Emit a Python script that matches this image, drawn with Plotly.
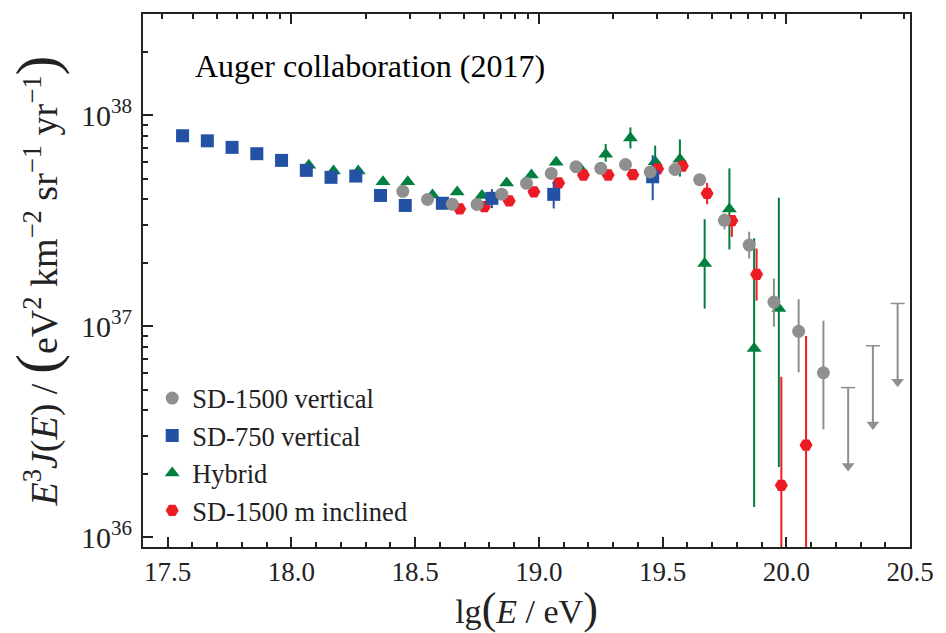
import numpy as np
import plotly.graph_objects as go

# ---------------- data ----------------
# SD-750 vertical (blue squares)
sd750_lg = [17.56, 17.66, 17.76, 17.86, 17.96, 18.06, 18.16, 18.26, 18.36, 18.46, 18.61, 18.81, 19.06, 19.46]
sd750_flux = [7.98e37, 7.55e37, 7.03e37, 6.56e37, 6.10e37, 5.47e37, 5.07e37, 5.14e37, 4.16e37, 3.73e37,
              3.82e37, 4.03e37, 4.21e37, 5.10e37]
sd750_hi = [None, None, None, None, None, None, None, None, None, None, None, 4.46e37, 4.83e37, 6.46e37]
sd750_lo = [None, None, None, None, None, None, None, None, None, None, None, 3.62e37, 3.61e37, 3.95e37]

# SD-1500 vertical (grey circles)
sd1500_lg = [18.45, 18.55, 18.65, 18.75, 18.85, 18.95, 19.05, 19.15, 19.25, 19.35, 19.45, 19.55, 19.65,
             19.75, 19.85, 19.95, 20.05, 20.15]
sd1500_flux = [4.35e37, 3.98e37, 3.78e37, 3.77e37, 4.22e37, 4.75e37, 5.29e37, 5.69e37, 5.59e37, 5.83e37,
               5.38e37, 5.52e37, 4.94e37, 3.17e37, 2.42e37, 1.30e37, 9.44e36, 6.01e36]
sd1500_hi = [None] * 13 + [3.42e37, 2.80e37, 1.68e37, 1.34e37, 1.06e37]
sd1500_lo = [None] * 13 + [2.87e37, 2.09e37, 9.93e36, 6.04e36, 3.24e36]
# SD-1500 vertical upper limits
ul_lg = [20.25, 20.35, 20.45]
ul_top = [5.11e36, 8.07e36, 1.28e37]
ul_arrow = [2.17e36, 3.42e36, 5.45e36]

# Hybrid (green triangles)
hyb_lg = [18.07, 18.17, 18.27, 18.37, 18.47, 18.57, 18.67, 18.77, 18.87, 18.97, 19.07, 19.17, 19.27,
          19.37, 19.47, 19.57, 19.67, 19.77, 19.87, 19.97]
hyb_flux = [5.78e37, 5.43e37, 5.43e37, 4.83e37, 4.83e37, 4.18e37, 4.32e37, 4.16e37, 4.76e37, 5.20e37,
            5.98e37, 5.54e37, 6.53e37, 7.78e37, 6.01e37, 6.18e37, 1.98e37, 3.59e37, 7.83e36, 1.21e37]
hyb_hi = [None] * 12 + [7.29e37, 8.74e37, 7.16e37, 7.67e37, 3.21e37, 5.59e37, 2.61e37, 4.06e37]
hyb_lo = [None] * 12 + [6.01e37, 6.95e37, 5.11e37, 5.11e37, 1.21e37, 2.31e37, 1.39e36, 2.15e36]

# SD-1500 m inclined (red hexagons)
inc_lg = [18.68, 18.78, 18.88, 18.98, 19.08, 19.18, 19.28, 19.38, 19.48, 19.58, 19.68, 19.78, 19.88,
          19.98, 20.08]
inc_flux = [3.59e37, 3.68e37, 3.92e37, 4.33e37, 4.77e37, 5.20e37, 5.20e37, 5.22e37, 5.56e37, 5.73e37,
            4.25e37, 3.16e37, 1.76e37, 1.76e36, 2.73e36]
inc_hi = [None] * 10 + [4.77e37, 3.36e37, 2.33e37, 5.75e36, 8.97e36]
inc_lo = [None] * 10 + [3.78e37, 2.65e37, 1.32e37, 1.0e35, 1.0e35]

x_ticks = [17.5, 18.0, 18.5, 19.0, 19.5, 20.0, 20.5]
x_ticktext = ["17.5", "18.0", "18.5", "19.0", "19.5", "20.0", "20.5"]
y_ticks = [1e36, 1e37, 1e38]
y_ticktext = ["10<sup>36</sup>", "10<sup>37</sup>", "10<sup>38</sup>"]

# ---------------- styling ----------------
C_GREY = "#8f8f8f"
C_BLUE = "#2351a3"
C_GREEN = "#007f3e"
C_RED = "#ed1c24"
FONT = "Liberation Serif"
AX = "#222222"


def errs(y, hi, lo):
    plus = [(h - v) if h is not None else 0 for v, h in zip(y, hi)]
    minus = [(v - l) if l is not None else 0 for v, l in zip(y, lo)]
    return plus, minus


fig = go.Figure()


def add_series(name, x, y, hi, lo, color, symbol, size, rank):
    plus, minus = errs(y, hi, lo)
    fig.add_trace(go.Scatter(
        x=x, y=y, mode="markers", name=name, legendrank=rank,
        marker=dict(symbol=symbol, size=size, color=color, line=dict(width=0)),
        error_y=dict(type="data", symmetric=False, array=plus, arrayminus=minus,
                     color=color, thickness=2, width=0),
        legendgroup=name,
    ))


# draw order: hybrid, inclined, SD-750, SD-1500
add_series("Hybrid", hyb_lg, hyb_flux, hyb_hi, hyb_lo, C_GREEN, "triangle-up", 13, 3)
add_series("SD-1500 m inclined", inc_lg, inc_flux, inc_hi, inc_lo, C_RED, "hexagon2", 13, 4)
add_series("SD-750 vertical", sd750_lg, sd750_flux, sd750_hi, sd750_lo, C_BLUE, "square", 13, 2)
add_series("SD-1500 vertical", sd1500_lg, sd1500_flux, sd1500_hi, sd1500_lo, C_GREY, "circle", 13, 1)

# upper limits: stems, caps, arrow heads
stem_x, stem_y = [], []
for xv, t, a in zip(ul_lg, ul_top, ul_arrow):
    stem_x += [xv, xv, None]
    stem_y += [t, a, None]
fig.add_trace(go.Scatter(x=stem_x, y=stem_y, mode="lines", line=dict(color=C_GREY, width=2),
                         showlegend=False, hoverinfo="skip", legendgroup="SD-1500 vertical"))
fig.add_trace(go.Scatter(x=ul_lg, y=ul_top, mode="markers", showlegend=False, hoverinfo="skip",
                         marker=dict(symbol="line-ew", size=10, line=dict(color=C_GREY, width=1.5))))
fig.add_trace(go.Scatter(x=ul_lg, y=ul_arrow, mode="markers", showlegend=False, hoverinfo="skip",
                         marker=dict(symbol="triangle-down", size=11, color=C_GREY)))

# invisible trace for the top (linear-energy) tick axis
fig.add_trace(go.Scatter(x=[18.0], y=[1e37], xaxis="x2", mode="markers", marker=dict(opacity=0),
                         showlegend=False, hoverinfo="skip"))

top_major = [18.0, 19.0, 20.0]
top_minor = [float(np.log10(m * 10.0 ** e)) for e in (17, 18, 19, 20) for m in range(2, 10)
             if 17.4 <= np.log10(m * 10.0 ** e) <= 20.5]

y_minor = [m * 10.0 ** e for e in (35, 36, 37, 38) for m in range(2, 10)
           if 35.95 <= np.log10(m * 10.0 ** e) <= 38.48]

BIGP = "<span style='font-size:60px'>{}</span>"
ytitle = ("<i>E</i><sup>3</sup><i>J</i>(<i>E</i>) / " + BIGP.format("(")
          + "eV<sup>2</sup> km<sup>−2</sup> sr<sup>−1</sup> yr<sup>−1</sup>" + BIGP.format(")"))
XP = "<span style='font-size:44px'>{}</span>"
xtitle = "lg" + XP.format("(") + "<i>E</i> / eV" + XP.format(")")

fig.update_layout(
    width=946, height=633,
    margin=dict(l=143, r=31, t=14, b=86),
    paper_bgcolor="white", plot_bgcolor="white",
    font=dict(family=FONT, size=25, color="#222222"),
    showlegend=True,
    legend=dict(x=0.012, y=0.324, xanchor="left", yanchor="top",
                font=dict(family=FONT, size=26.5, color="#222222"),
                bgcolor="rgba(0,0,0,0)", traceorder="grouped", tracegroupgap=0,
                itemwidth=30),
    xaxis=dict(range=[17.4, 20.5], tickmode="array", tickvals=x_ticks, ticktext=x_ticktext,
               ticks="inside", ticklen=10, tickwidth=1.5, tickcolor=AX,
               minor=dict(dtick=0.1, tick0=17.5, ticks="inside", ticklen=5, tickwidth=1.5, tickcolor=AX),
               showline=True, linewidth=2, linecolor=AX, mirror=True, showgrid=False, zeroline=False,
               tickfont=dict(family=FONT, size=27),
               title=dict(text=xtitle, font=dict(family=FONT, size=34), standoff=4)),
    xaxis2=dict(range=[17.4, 20.5], overlaying="x", side="top", tickmode="array", tickvals=top_major,
                showticklabels=False, ticks="inside", ticklen=10, tickwidth=1.5, tickcolor=AX,
                minor=dict(tickmode="array", tickvals=top_minor, ticks="inside", ticklen=5,
                           tickwidth=1.5, tickcolor=AX),
                showline=True, linewidth=2, linecolor=AX, showgrid=False, zeroline=False),
    yaxis=dict(type="log", range=[35.953, 38.479], tickmode="array", tickvals=y_ticks, ticktext=y_ticktext,
               ticks="inside", ticklen=10, tickwidth=1.5, tickcolor=AX,
               minor=dict(tickmode="array", tickvals=y_minor, ticks="inside", ticklen=5, tickwidth=1.5,
                          tickcolor=AX),
               showline=True, linewidth=2, linecolor=AX, mirror=True, showgrid=False, zeroline=False,
               tickfont=dict(family=FONT, size=30), ticklabelstandoff=3,
               title=dict(text=ytitle, font=dict(family=FONT, size=38), standoff=12)),
    annotations=[dict(text="Auger collaboration (2017)", xref="paper", yref="paper",
                      x=0.0648, y=0.902, xanchor="left", yanchor="middle", showarrow=False,
                      font=dict(family=FONT, size=32, color="black"))],
)

fig.write_html("out.html")
